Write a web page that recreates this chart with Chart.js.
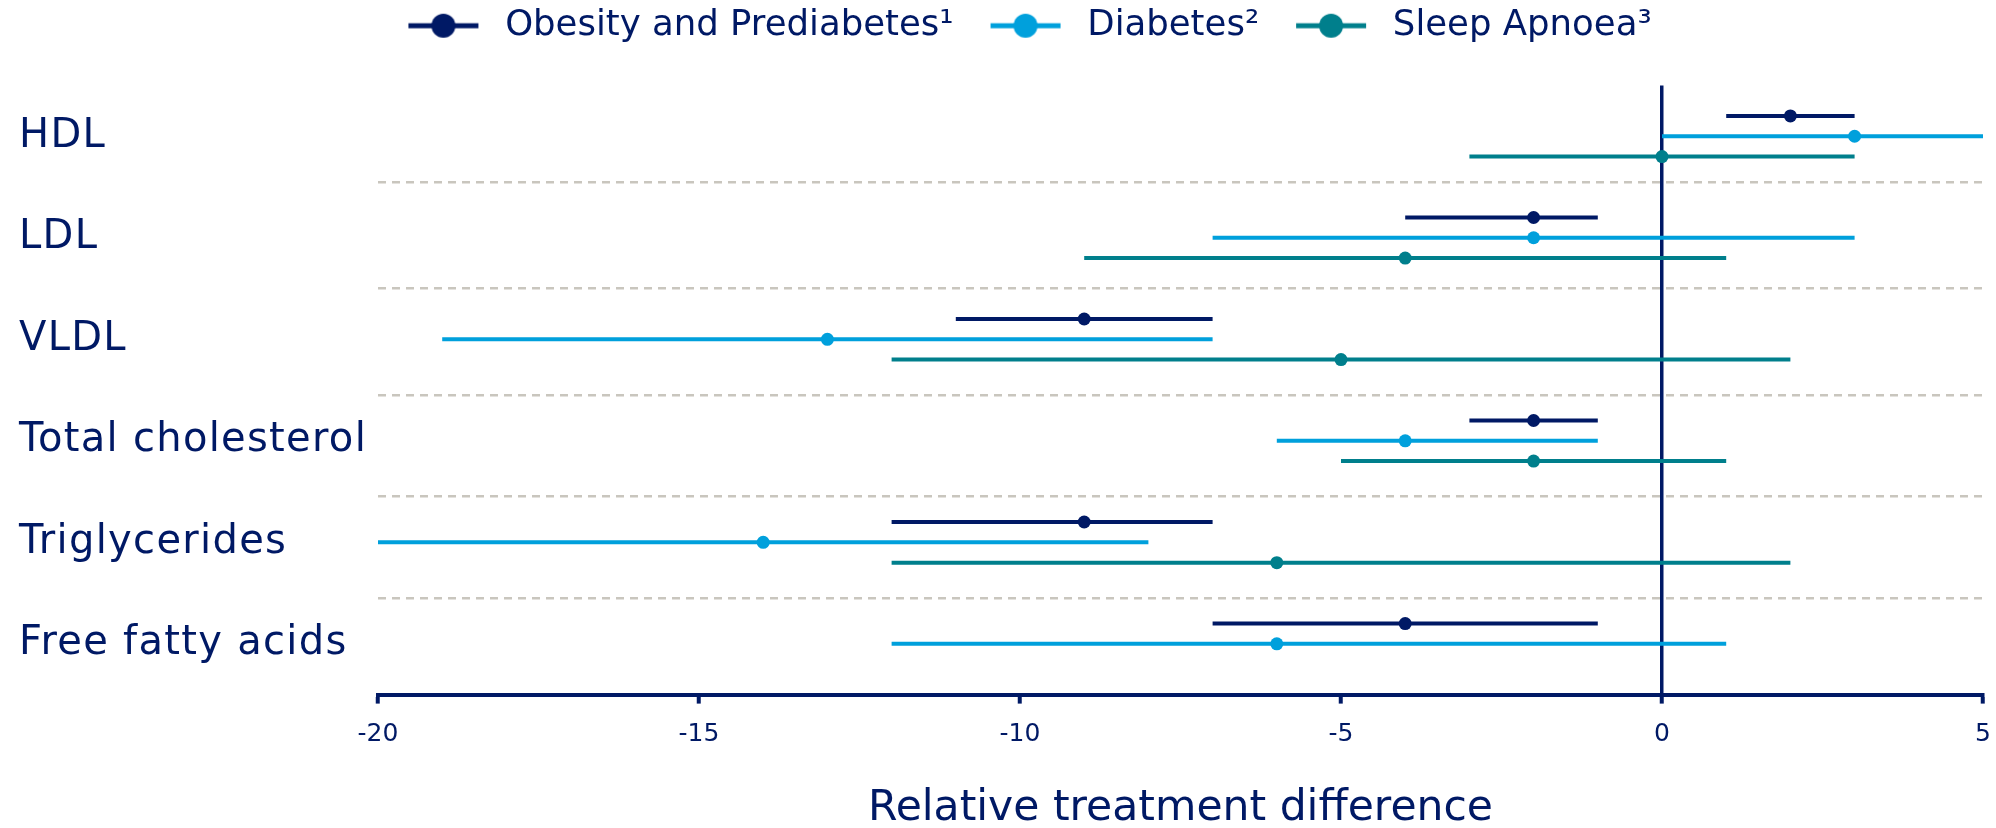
<!DOCTYPE html>
<html>
<head>
<meta charset="utf-8">
<script src="https://cdn.jsdelivr.net/npm/chart.js@4/dist/chart.umd.min.js"></script>
<style>
  html, body { margin: 0; padding: 0; background: #ffffff; }
  #wrap { width: 1996px; height: 828px; }
</style>
</head>
<body>
<div id="wrap"><canvas id="c" width="1996" height="828"></canvas></div>
<script>
// Lipid outcomes, top to bottom
const categories = ['HDL', 'LDL', 'VLDL', 'Total cholesterol', 'Triglycerides', 'Free fatty acids'];
const seriesNames = ['Obesity and Prediabetes\u00B9', 'Diabetes\u00B2', 'Sleep Apnoea\u00B3'];

// Point estimates and interval limits per outcome
const obesityEst  = [2, -2, -9, -2, -9, -4];
const obesityLow  = [1, -4, -11, -3, -12, -7];
const obesityHigh = [3, -1, -7, -1, -7, -1];

const diabetesEst  = [3, -2, -13, -4, -14, -6];
const diabetesLow  = [0, -7, -19, -6, -20, -12];
const diabetesHigh = [5, 3, -7, -1, -8, 1];

const apnoeaEst  = [0, -4, -5, -2, -6, null];
const apnoeaLow  = [-3, -9, -12, -5, -12, null];
const apnoeaHigh = [3, 1, 2, 1, 2, null];

const xTicks = [-20, -15, -10, -5, 0, 5];
const xTitle = 'Relative treatment difference';

// Styling
const NAVY = '#001965';
const LIGHT = '#00A0DC';
const TEAL = '#007F8C';
const GRID = '#c9c6be';
const FONT = '"DejaVu Sans", Verdana, sans-serif';

const series = [
  { name: seriesNames[0], color: NAVY,  est: obesityEst,  low: obesityLow,  high: obesityHigh,  shift: -0.2 },
  { name: seriesNames[1], color: LIGHT, est: diabetesEst, low: diabetesLow, high: diabetesHigh, shift: 0 },
  { name: seriesNames[2], color: TEAL,  est: apnoeaEst,   low: apnoeaLow,   high: apnoeaHigh,   shift: 0.2 }
];

function intervalData(s) {
  const pts = [];
  categories.forEach((_, i) => {
    if (s.low[i] == null) return;
    const y = i + s.shift;
    pts.push({ x: s.low[i], y }, { x: s.high[i], y }, { x: s.high[i], y: null });
  });
  return pts;
}
function estimateData(s) {
  const pts = [];
  categories.forEach((_, i) => {
    if (s.est[i] == null) return;
    pts.push({ x: s.est[i], y: i + s.shift });
  });
  return pts;
}

const datasets = [];
series.forEach((s) => {
  datasets.push({
    label: s.name + ' est',
    data: estimateData(s),
    showLine: false,
    pointRadius: 6.5,
    pointBackgroundColor: s.color,
    pointBorderWidth: 0,
    borderColor: s.color,
    order: 0
  });
});
series.forEach((s) => {
  datasets.push({
    label: s.name,
    data: intervalData(s),
    borderColor: s.color,
    borderWidth: 4,
    pointRadius: 0,
    spanGaps: false,
    order: 1
  });
});

// Legend swatch: short line with a dot in the middle
function swatch(color) {
  const cv = document.createElement('canvas');
  cv.width = 108; cv.height = 26;
  const g = cv.getContext('2d');
  g.strokeStyle = color; g.lineWidth = 5;
  g.beginPath(); g.moveTo(29, 13); g.lineTo(99, 13); g.stroke();
  g.fillStyle = color;
  g.beginPath(); g.arc(64, 13, 12, 0, Math.PI * 2); g.fill();
  return cv;
}

// Row labels on the left, one per outcome row
const rowLabels = {
  id: 'rowLabels',
  afterDraw(chart) {
    const ctx = chart.ctx;
    const yScale = chart.scales.y;
    ctx.save();
    ctx.font = '40px ' + FONT;
    ctx.fillStyle = NAVY;
    ctx.textAlign = 'left';
    ctx.textBaseline = 'middle';
    if ('letterSpacing' in ctx) ctx.letterSpacing = '1.3px';
    categories.forEach((c, i) => ctx.fillText(c, 19, yScale.getPixelForValue(i)));
    ctx.restore();
  }
};

// Extra gap under the legend
const legendGap = {
  id: 'legendGap',
  beforeInit(chart) {
    const lg = chart.legend;
    const fit = lg.fit;
    lg.fit = function () { fit.call(this); this.height += 32; };
  }
};

new Chart(document.getElementById('c'), {
  type: 'line',
  data: { datasets },
  plugins: [legendGap, rowLabels],
  options: {
    responsive: false,
    devicePixelRatio: 1,
    animation: false,
    layout: { padding: { left: 48, right: 13, top: 0, bottom: 0 } },
    plugins: {
      tooltip: { enabled: false },
      legend: {
        position: 'top',
        labels: {
          color: NAVY,
          font: { family: FONT, size: 35.5 },
          usePointStyle: true,
          pointStyleWidth: 108,
          padding: 8,
          generateLabels: () => series.map((s, i) => ({
            text: s.name,
            fillStyle: s.color,
            strokeStyle: s.color,
            lineWidth: 0,
            pointStyle: swatch(s.color),
            fontColor: NAVY,
            hidden: false,
            datasetIndex: 3 + i
          }))
        },
        onClick: () => {}
      }
    },
    scales: {
      x: {
        type: 'linear',
        position: 'bottom',
        min: -20,
        max: 5,
        afterBuildTicks: (axis) => { axis.ticks = xTicks.map(v => ({ value: v })); },
        afterFit: (axis) => { axis.paddingLeft = 0; axis.paddingRight = 0; },
        ticks: {
          color: NAVY,
          font: { family: FONT, size: 25 },
          padding: 16,
          maxRotation: 0
        },
        grid: {
          color: (c) => (c.tick && c.tick.value === 0 ? NAVY : 'rgba(0,0,0,0)'),
          lineWidth: 3.5,
          drawOnChartArea: true,
          drawTicks: true,
          tickLength: 9,
          tickWidth: 4,
          tickColor: NAVY
        },
        border: { display: true, color: NAVY, width: 4 },
        title: {
          display: true,
          text: xTitle,
          color: NAVY,
          font: { family: FONT, size: 42.5, lineHeight: 0.88 },
          padding: { top: 25, bottom: 0 }
        }
      },
      y: {
        type: 'linear',
        reverse: true,
        min: -0.5,
        max: 5.5,
        afterFit: (axis) => { axis.width = 330; },
        afterBuildTicks: (axis) => { axis.ticks = [0.45, 1.5, 2.55, 3.55, 4.55].map(v => ({ value: v })); },
        ticks: { display: false },
        grid: { color: GRID, lineWidth: 2.5, drawTicks: false, drawOnChartArea: true },
        border: { display: false, dash: [8, 6] }
      }
    }
  }
});
</script>
</body>
</html>
